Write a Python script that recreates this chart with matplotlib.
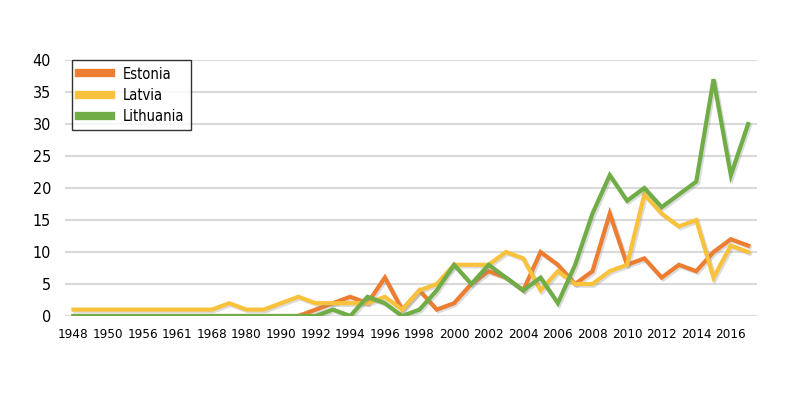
import matplotlib
matplotlib.use('Agg')
import matplotlib.pyplot as plt
import matplotlib.patheffects as pe
from matplotlib import font_manager

# categories (only every other one is labelled on the axis)
years = ['1948', '1949', '1950', '1953', '1956', '1959', '1961', '1965',
         '1968', '1975', '1980', '1985'] + [str(y) for y in range(1990, 2018)]

estonia = [0, 0, 0, 0, 0, 0, 0, 0, 0, 0, 0, 0,
           0, 0, 1, 2, 3, 2, 6, 1, 4, 1, 2, 5, 7, 6, 4, 10, 8, 5,
           7, 16, 8, 9, 6, 8, 7, 10, 12, 11]
latvia = [1, 1, 1, 1, 1, 1, 1, 1, 1, 2, 1, 1,
          2, 3, 2, 2, 2, 2, 3, 1, 4, 5, 8, 8, 8, 10, 9, 4, 7, 5,
          5, 7, 8, 19, 16, 14, 15, 6, 11, 10]
lithuania = [0, 0, 0, 0, 0, 0, 0, 0, 0, 0, 0, 0,
             0, 0, 0, 1, 0, 3, 2, 0, 1, 4, 8, 5, 8, 6, 4, 6, 2, 8,
             16, 22, 18, 20, 17, 19, 21, 37, 22, 30]

series = [('Estonia', estonia, '#ED7D31'),
          ('Latvia', latvia, '#F9C23C'),
          ('Lithuania', lithuania, '#70AD47')]

# look for a narrow font, otherwise fall back to a plain sans
narrow = [f for f in font_manager.fontManager.ttflist
          if ('Narrow' in f.name or 'Condensed' in f.name
              or f.stretch in ('condensed', 'semi-condensed'))]
tick_size, leg_size = 9.6, 10.5
if narrow:
    plt.rcParams['font.family'] = [narrow[0].name, 'DejaVu Sans']
    plt.rcParams['font.stretch'] = narrow[0].stretch
else:
    plt.rcParams['font.family'] = ['Liberation Sans', 'DejaVu Sans']
    tick_size = 9.0

fig = plt.figure(figsize=(8, 4), dpi=100)
ax = fig.add_axes([0.081, 0.21, 0.865, 0.64])

x = list(range(len(years)))
shadow = [pe.SimpleLineShadow(offset=(1.2, -1.2), shadow_color='#888888', alpha=0.3), pe.Normal()]
for name, vals, col in series:
    ax.plot(x, vals, color=col, lw=3.0, label=name, solid_joinstyle='miter',
            path_effects=shadow, zorder=3)

ax.set_xlim(-0.5, len(years) - 0.5)
ax.set_ylim(0, 40)
ax.set_yticks(range(0, 41, 5))
ax.set_xticks(x[::2])
ax.set_xticklabels(years[::2])
ax.tick_params(axis='both', length=0, labelsize=tick_size, colors='black')
ax.tick_params(axis='y', labelsize=11.5, pad=10)
ax.tick_params(axis='x', pad=9)
ax.grid(axis='y', color='#d9d9d9', lw=1.5)
ax.set_axisbelow(True)
for s in ax.spines.values():
    s.set_visible(False)

leg = ax.legend(loc='upper left', bbox_to_anchor=(0.011, 1.0), borderaxespad=0,
                fontsize=leg_size, frameon=True, fancybox=False, edgecolor='black',
                handlelength=2.2, borderpad=0.45, labelspacing=0.42)
leg.get_frame().set_linewidth(1.0)
for line in leg.get_lines():
    line.set_linewidth(6)
    line.set_path_effects([])

fig.savefig('out.png', dpi=100, facecolor='white')
